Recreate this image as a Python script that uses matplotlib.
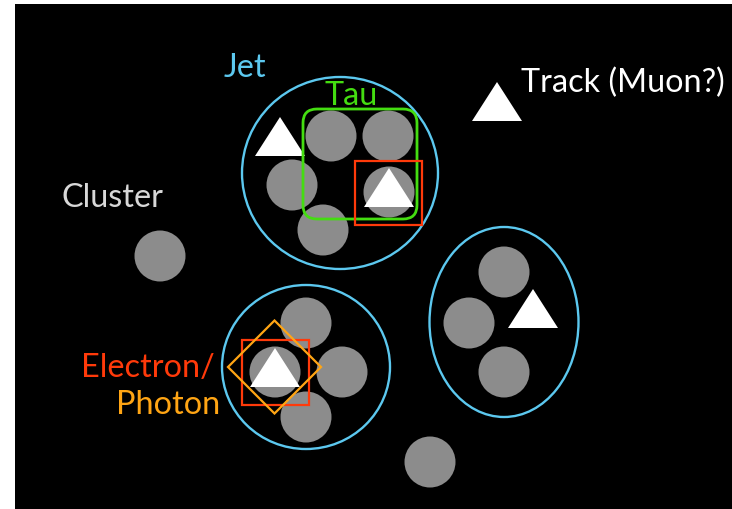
import numpy as np
import matplotlib.pyplot as plt
from matplotlib.patches import Circle, Ellipse, Polygon, Rectangle, FancyBboxPatch

# calorimeter clusters (x, y)
cluster_x = [331, 388, 292, 389, 323, 306, 342, 306, 275, 504, 469, 504, 160, 430]
cluster_y = [137, 137, 186, 193, 231, 324, 373, 418, 373, 273, 324, 373, 257, 463]

# tracks (apex-centred triangles)
track_x = [280, 389, 275, 533, 497]
track_y = [143, 194, 374, 315, 108]

# jets: centre x, centre y, width, height
jet_x = [340, 306, 504]
jet_y = [174, 368, 323]
jet_w = [196, 168, 149]
jet_h = [192, 164, 190]

labels = ['Jet', 'Tau', 'Cluster', 'Track (Muon?)', 'Electron/', 'Photon']

BLUE = '#5cc8ef'
GREEN = '#44dd11'
RED = '#ff3a0a'
ORANGE = '#ffa514'
GREY = '#8c8c8c'

plt.rcParams['font.family'] = ['Lato', 'DejaVu Sans']

fig = plt.figure(figsize=(7.32, 5.10), dpi=100)
ax = fig.add_axes([0, 0, 1, 1])
ax.set_xlim(0, 732)
ax.set_ylim(510, 0)
ax.set_aspect('equal')
ax.axis('off')
fig.patch.set_facecolor('white')

ax.add_patch(Rectangle((15, 5), 720, 510, facecolor='black', edgecolor='none', zorder=0))

R = 25.5
for x, y in zip(cluster_x, cluster_y):
    ax.add_patch(Circle((x, y), R, facecolor=GREY, edgecolor='none', zorder=2))

for x, y in zip(track_x, track_y):
    tri = [(x - 25, y + 14), (x + 25, y + 14), (x, y - 25)]
    ax.add_patch(Polygon(tri, closed=True, facecolor='white', edgecolor='none', zorder=4))

for x, y, w, h in zip(jet_x, jet_y, jet_w, jet_h):
    ax.add_patch(Ellipse((x, y), w, h, facecolor='none', edgecolor=BLUE, lw=1.7, zorder=3))

# tau box
ax.add_patch(FancyBboxPatch((317, 124), 86, 82, boxstyle='round,pad=14', facecolor='none',
                            edgecolor=GREEN, lw=2.0, zorder=5))
# electron boxes
ax.add_patch(Rectangle((355, 162), 67, 64, facecolor='none', edgecolor=RED, lw=1.6, zorder=5))
ax.add_patch(Rectangle((242, 341), 67, 65, facecolor='none', edgecolor=RED, lw=1.6, zorder=5))
# photon diamond
cx, cy, d = 274.5, 368, 46.5
ax.add_patch(Polygon([(cx, cy - d), (cx + d, cy), (cx, cy + d), (cx - d, cy)], closed=True,
                     facecolor='none', edgecolor=ORANGE, lw=1.6, zorder=6))

fs = 23.3
ax.text(245, 68, labels[0], color=BLUE, fontsize=fs, ha='center', va='center')
ax.text(351, 96, labels[1], color=GREEN, fontsize=fs, ha='center', va='center')
ax.text(112, 198, labels[2], color='#d8d8d8', fontsize=fs, ha='center', va='center')
ax.text(521, 83, labels[3], color='white', fontsize=fs, ha='left', va='center')
ax.text(215, 368, labels[4], color=RED, fontsize=fs, ha='right', va='center')
ax.text(220, 405, labels[5], color=ORANGE, fontsize=fs, ha='right', va='center')

fig.savefig('out.png', dpi=100)
